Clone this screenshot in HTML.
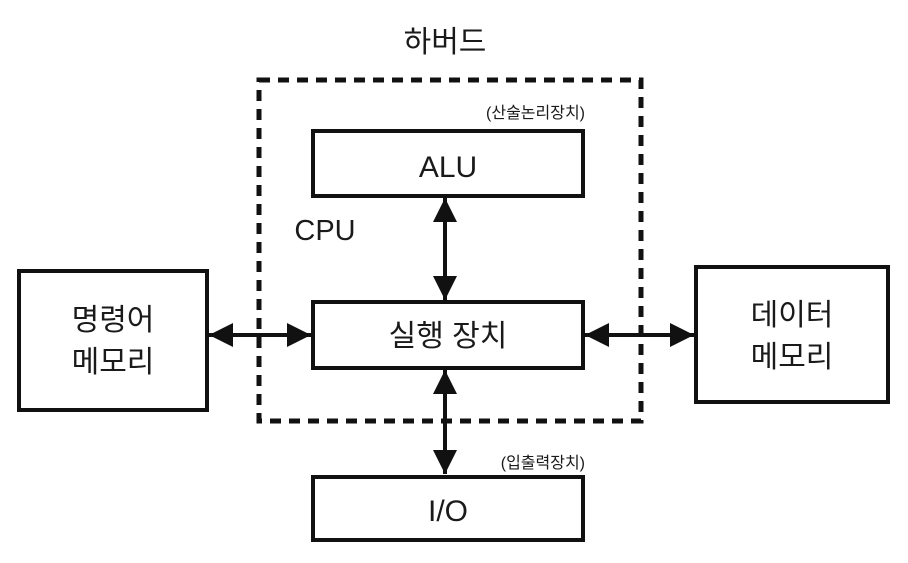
<!DOCTYPE html>
<html><head><meta charset="utf-8"><style>
body{margin:0;background:#fff;}
svg text{font-family:"Liberation Sans","Noto Sans CJK KR",sans-serif;fill:#1a1a1a;}
</style></head><body>
<svg width="908" height="558" viewBox="0 0 908 558" xmlns="http://www.w3.org/2000/svg">
<defs>
<marker id="a" viewBox="0 0 10 10" refX="10" refY="5" markerWidth="8" markerHeight="6" orient="auto-start-reverse" markerUnits="strokeWidth"><path d="M0,0 L10,5 L0,10 z" fill="#111"/></marker>
</defs>
<rect width="908" height="558" fill="#fff"/>
<text x="445" y="52" font-size="30" text-anchor="middle">하버드</text>
<rect x="259" y="80" width="382" height="341" fill="none" stroke="#111" stroke-width="5" stroke-dasharray="11,8"/>
<text x="585" y="118" font-size="16" text-anchor="end" fill="#333">(산술논리장치)</text>
<rect x="313" y="131" width="270" height="65" fill="#fff" stroke="#111" stroke-width="4"/>
<text x="448" y="177" font-size="30" text-anchor="middle">ALU</text>
<text x="325" y="240" font-size="29" text-anchor="middle">CPU</text>
<rect x="313" y="302" width="270" height="66" fill="#fff" stroke="#111" stroke-width="4"/>
<text x="448" y="346" font-size="30" text-anchor="middle">실행 장치</text>
<line x1="445" y1="198" x2="445" y2="300" stroke="#111" stroke-width="4" marker-start="url(#a)" marker-end="url(#a)"/>
<line x1="445" y1="370" x2="445" y2="474" stroke="#111" stroke-width="4" marker-start="url(#a)" marker-end="url(#a)"/>
<rect x="19" y="271" width="188" height="139" fill="#fff" stroke="#111" stroke-width="4"/>
<text x="113" y="330" font-size="30" text-anchor="middle">명령어</text>
<text x="113" y="372" font-size="30" text-anchor="middle">메모리</text>
<line x1="209" y1="335" x2="311" y2="335" stroke="#111" stroke-width="4" marker-start="url(#a)" marker-end="url(#a)"/>
<rect x="696" y="267" width="192" height="135" fill="#fff" stroke="#111" stroke-width="4"/>
<text x="792" y="325" font-size="30" text-anchor="middle">데이터</text>
<text x="792" y="367" font-size="30" text-anchor="middle">메모리</text>
<line x1="585" y1="335" x2="694" y2="335" stroke="#111" stroke-width="4" marker-start="url(#a)" marker-end="url(#a)"/>
<text x="585" y="468" font-size="16" text-anchor="end" fill="#333">(입출력장치)</text>
<rect x="313" y="477" width="270" height="63" fill="#fff" stroke="#111" stroke-width="4"/>
<text x="448" y="521" font-size="30" text-anchor="middle">I/O</text>
</svg>
</body></html>
